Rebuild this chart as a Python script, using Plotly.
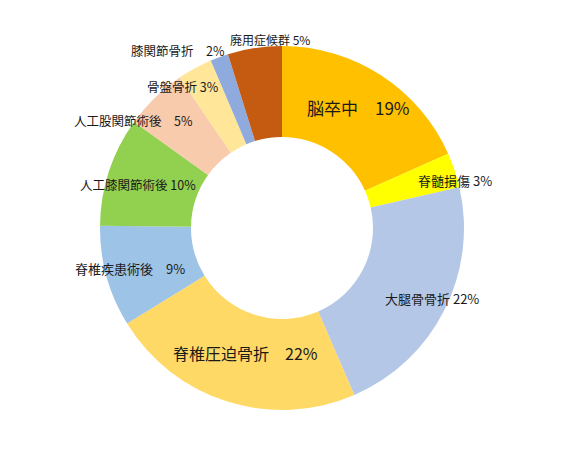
import plotly.graph_objects as go

categories = ["脳卒中", "脊髄損傷", "大腿骨骨折", "脊椎圧迫骨折", "脊椎疾患術後",
              "人工膝関節術後", "人工股関節術後", "骨盤骨折", "膝関節骨折", "廃用症候群"]
# slice shares (percent)
values = [18.3, 3.1, 22.1, 22.7, 9.0, 9.7, 5.6, 3.1, 1.6, 4.8]
# percentages as printed on the labels
pct_labels = [19, 3, 22, 22, 9, 10, 5, 3, 2, 5]
colors = ["#FFC000", "#FFFF00", "#B4C7E7", "#FFD966", "#9DC3E6",
          "#92D050", "#F8CBAD", "#FFE699", "#8FAADC", "#C55A11"]
separators = ["　", " ", " ", "　", "　", " ", "　", " ", "　", " "]

W, H = 565, 454
OFF = 8  # page body offset
cx, cy, r = 282 - OFF, 228 - OFF, 182
# label anchor positions (pixels) and font sizes
label_px = [(358, 108), (455, 180), (432, 298), (245, 353), (130, 268),
            (138, 184), (133, 120), (183, 86), (178, 51), (270, 40)]
label_size = [17, 13, 13, 16, 13, 12.5, 12.5, 12.5, 12.5, 12]

fig = go.Figure(go.Pie(
    labels=categories, values=values, sort=False, direction="clockwise",
    rotation=0, hole=0.5, marker=dict(colors=colors, line=dict(width=0)),
    textinfo="none", hoverinfo="label", showlegend=False,
    domain=dict(x=[(cx - r) / W, (cx + r) / W],
                y=[(H - cy - r) / H, (H - cy + r) / H]),
))

for cat, v, sep, (px, py), fs in zip(categories, pct_labels, separators, label_px, label_size):
    fig.add_annotation(
        x=(px - OFF) / W, y=1 - (py - OFF) / H, xref="paper", yref="paper",
        text=f"{cat}{sep}{v}%", showarrow=False,
        font=dict(family="Noto Sans CJK JP", size=fs, color="#1a1a1a"),
        xanchor="center", yanchor="middle",
    )

fig.update_layout(width=W, height=H, margin=dict(l=0, r=0, t=0, b=0),
                  paper_bgcolor="white", plot_bgcolor="white")
fig.write_html("out.html")
